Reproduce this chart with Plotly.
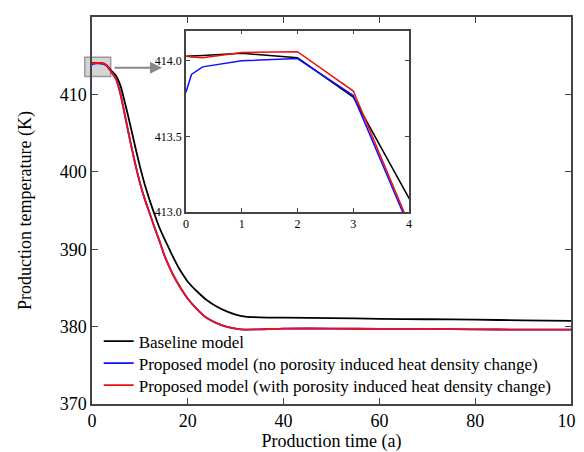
import plotly.graph_objects as go

# ---- data ----
time_a = [0, 0.1, 0.3, 1, 2, 3, 4, 5, 6, 7, 8, 9, 10, 11, 12, 13, 14, 15, 16, 17, 18, 19, 20,
          22, 24, 26, 28, 30, 32, 35, 40, 50, 60, 70, 80, 90, 100]
baseline = [414.03, 414.03, 414.035, 414.05, 414.02, 413.76, 413.09, 412.4, 411.0, 408.6, 406.0,
            403.3, 400.7, 398.4, 396.4, 394.6, 392.9, 391.5, 390.2, 388.9, 387.7, 386.7, 385.8,
            384.5, 383.4, 382.6, 382.0, 381.55, 381.3, 381.2, 381.15, 381.1, 381.0, 380.95, 380.9,
            380.8, 380.75]
proposed_no = [413.79, 413.91, 413.96, 414.0, 414.015, 413.77, 412.9, 412.0, 409.9, 406.9, 403.9,
               401.1, 398.6, 396.5, 394.7, 392.9, 391.2, 389.4, 387.9, 386.6, 385.5, 384.5, 383.6,
               382.2, 381.1, 380.45, 380.0, 379.75, 379.62, 379.65, 379.75, 379.75, 379.7, 379.7,
               379.65, 379.6, 379.6]
proposed_with = [414.03, 414.025, 414.02, 414.055, 414.06, 413.80, 412.92, 412.0, 409.9, 406.9, 403.9,
                 401.1, 398.6, 396.5, 394.7, 392.9, 391.2, 389.4, 387.9, 386.6, 385.5, 384.5, 383.6,
                 382.2, 381.1, 380.45, 380.0, 379.75, 379.62, 379.65, 379.75, 379.75, 379.7, 379.7,
                 379.65, 379.6, 379.6]

series_names = ["Baseline model",
                "Proposed model (no porosity induced heat density change)",
                "Proposed model (with porosity induced heat density change)"]
series_colors = ["#000000", "#1010ff", "#f01010"]

x_range = [0, 100]
y_range = [370, 420]
x_ticks = [0, 20, 40, 60, 80, 100]
y_ticks = [370, 380, 390, 400, 410, 420]

inset_x_range = [0, 4]
inset_y_range = [413.0, 414.2]
inset_x_ticks = [0, 1, 2, 3, 4]
inset_y_ticks = [413.0, 413.5, 414.0]

# zoom box (data units) and arrow
box_x = [-1.5, 3.9]
box_y = [412.3, 414.8]
arrow_from = (4.4, 413.45)
arrow_to = (14.6, 413.45)

FONT = "Liberation Serif"
AX = "#444444"

fig = go.Figure()
all_series = [baseline, proposed_no, proposed_with]
legend_ids = ["legend", "legend2", "legend3"]
for name, col, ys, lg in zip(series_names, series_colors, all_series, legend_ids):
    fig.add_trace(go.Scatter(x=time_a, y=ys, mode="lines", name=name, legend=lg,
                             line=dict(color=col, width=1.8, shape="spline", smoothing=0.6),
                             xaxis="x", yaxis="y"))
for name, col, ys in zip(series_names, series_colors, all_series):
    xi = [t for t in time_a if t <= 5]
    yi = ys[:len(xi)]
    fig.add_trace(go.Scatter(x=xi, y=yi, mode="lines", showlegend=False,
                             line=dict(color=col, width=1.5),
                             xaxis="x2", yaxis="y2"))

axis_common = dict(showline=True, linecolor=AX, linewidth=1.5, mirror="allticks",
                   ticks="inside", tickcolor=AX, showgrid=False, zeroline=False)

def frac(v, r):
    return (v - r[0]) / (r[1] - r[0])

fig.add_shape(type="rect", xref="paper", yref="paper",
              x0=frac(box_x[0], x_range), x1=frac(box_x[1], x_range),
              y0=frac(box_y[0], y_range), y1=frac(box_y[1], y_range),
              fillcolor="#d4d4d4", line=dict(color="#999999", width=1.5), layer="below")

fig.add_annotation(x=arrow_to[0], y=arrow_to[1], ax=arrow_from[0], ay=arrow_from[1],
                   xref="x", yref="y", axref="x", ayref="y", text="", showarrow=True,
                   arrowhead=2, arrowsize=1.2, arrowwidth=2, arrowcolor="#888888")

main_tick_font = dict(family=FONT, size=18, color="black")
inset_tick_font = dict(family=FONT, size=12, color="black")
legend_common = dict(x=0.014, xanchor="left", yanchor="top", bgcolor="rgba(0,0,0,0)",
                     font=dict(family=FONT, size=17, color="black"))

# the page adds an 8 px body margin: figure offset by 8 px, margins shifted accordingly
fig.update_layout(
    width=584, height=444,
    margin=dict(l=84, r=21, t=9, b=48, autoexpand=False),
    paper_bgcolor="white", plot_bgcolor="white",
    font=dict(family=FONT, size=18, color="black"),
    xaxis=dict(range=x_range, tickvals=x_ticks, ticklen=6, tickfont=main_tick_font,
               ticklabelstandoff=0, ticklabeloverflow="allow",
               title=dict(text="Production time (a)", standoff=4,
                          font=dict(family=FONT, size=18, color="black")),
               domain=[0, 1], **axis_common),
    yaxis=dict(range=y_range, tickvals=y_ticks, ticklen=6, tickfont=main_tick_font,
               title=dict(text="Production temperature (K)", standoff=23,
                          font=dict(family=FONT, size=18, color="black")),
               domain=[0, 1], **axis_common),
    xaxis2=dict(range=inset_x_range, tickvals=inset_x_ticks, ticklen=4, anchor="y2",
                domain=[0.196, 0.662], tickfont=inset_tick_font, **axis_common),
    yaxis2=dict(range=inset_y_range, tickvals=inset_y_ticks, tickformat=".1f", ticklen=4,
                anchor="x2", domain=[0.496, 0.965], tickfont=inset_tick_font, **axis_common),
    legend=dict(y=0.208, **legend_common),
    legend2=dict(y=0.151, **legend_common),
    legend3=dict(y=0.094, **legend_common),
    showlegend=True,
)

fig.write_html("out.html")
